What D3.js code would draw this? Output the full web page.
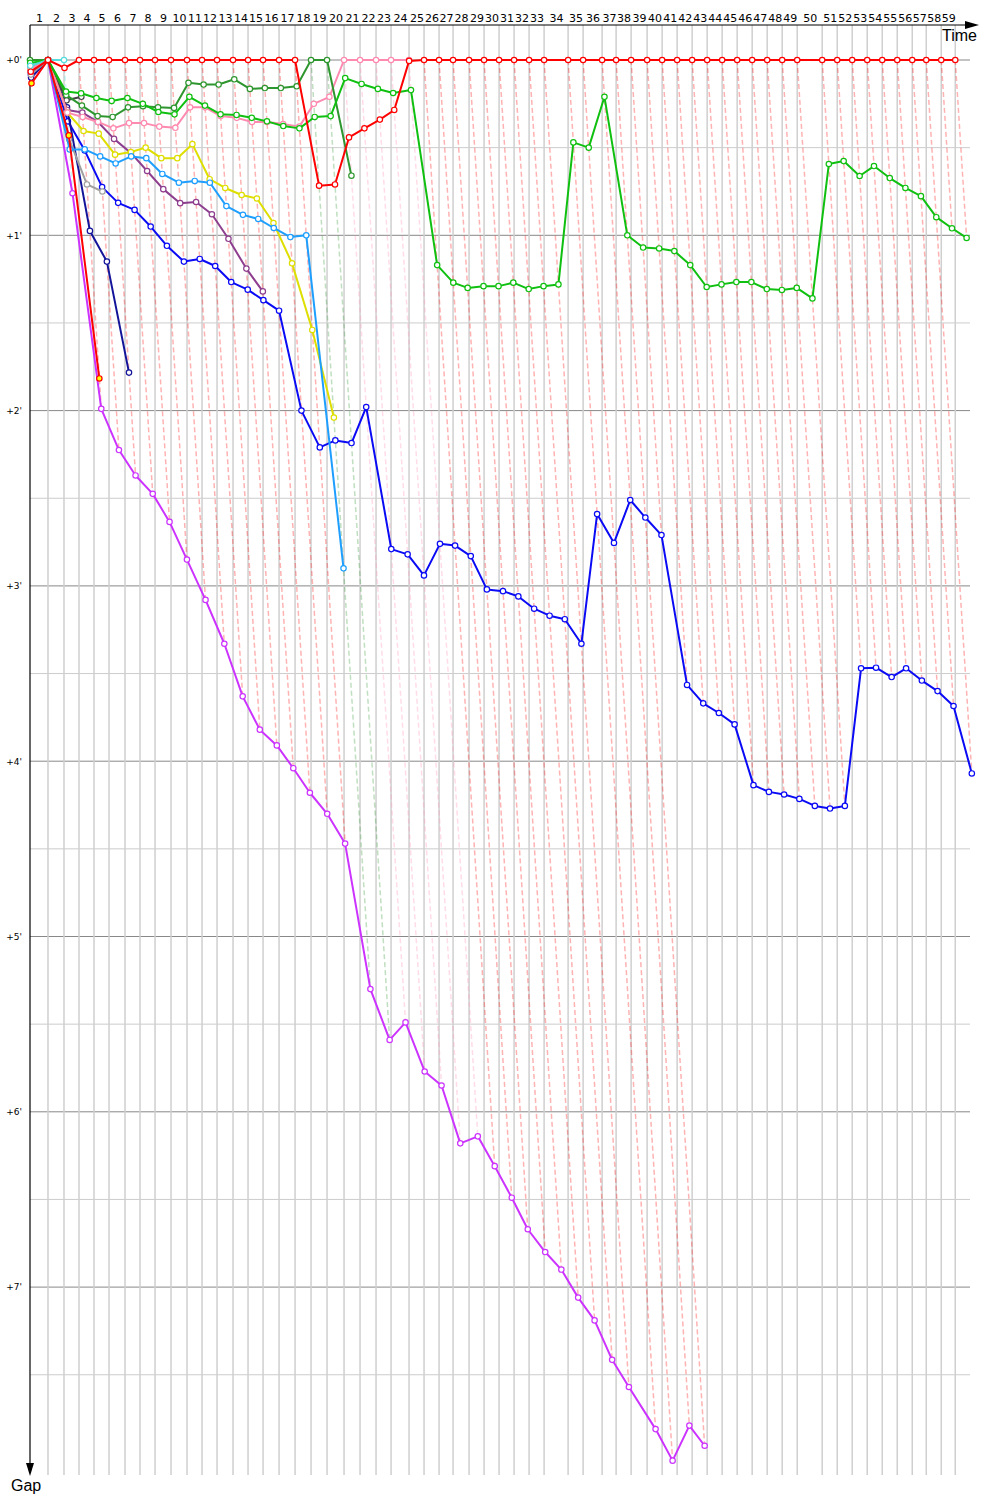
<!DOCTYPE html>
<html>
<head>
<meta charset="utf-8">
<script src="https://cdn.jsdelivr.net/npm/d3@7"></script>
<style>
body { margin: 0; background: #fff; }
</style>
</head>
<body>
<svg id="chart"></svg>
<script>
var width = 1000;
var height = 1500;

// leader lap times, seconds (laps 1..59)
var leaderLapTimes = [96.4,85.7,80.4,80.4,80.4,85.7,80.4,80.4,85.7,85.7,
  80.4,80.4,85.7,80.4,80.4,85.7,85.7,85.7,85.7,91.1,
  85.7,85.7,80.4,96.4,80.4,80.4,75.0,85.7,80.4,80.4,
  80.4,80.4,80.4,128.6,80.4,101.8,75.0,80.4,85.7,80.4,
  80.4,80.4,80.4,80.4,80.4,80.4,80.4,80.4,80.4,133.9,
  80.4,80.4,80.4,80.4,80.4,80.4,75.0,80.4,75.0];

// gap to leader in seconds, index = lap (0 = start)
var gapsViolet = [6,0,45.6,119.4,133.5,142.2,148.5,158.1,171,184.8,
  199.8,217.8,229.2,234.6,242.4,250.8,258,268.2,318,335.4,
  329.4,346.2,351,370.8,368.4,378.6,389.4,400.2,408,414,
  423.6,431.4,444.9,454.2,468.6,479.4,467.4,474.3];
var gapsBlue = [5,0,21,31,43.5,48.9,51.3,57,63.6,69,
  68.1,70.5,76,78.6,82.2,85.8,120,132.6,130.2,131.1,
  118.8,167.4,169.2,176.4,165.6,166.2,169.8,181.2,181.8,183.6,
  187.8,190.2,191.4,199.8,155.4,165.3,150.6,156.6,162.6,213.9,
  220.2,223.5,227.4,248.2,250.5,251.4,252.9,255.3,256.2,255.3,
  208.2,208,211.2,208.2,212.4,216,221.1,244.2];
var gapsNavy = [6,0,16.2,58.5,69,107];
var gapsGray = [5,0,27,42.6,45];
var gapsBlack = [3,0,13.8,12.6];
var gapsPurple = [4,0,17.1,18,21.2,27,31.8,38,44.2,49,48.6,52.8,61.2,71.4,79.2];
var gapsYellow = [3,0,18,24.3,25.2,32.4,31.5,30,33.6,33.6,28.8,40.8,43.8,46.2,47.4,55.8,69.6,92.4,122.4];
var gapsLightBlue = [2,0,30.6,30.6,33,35.4,33,33.6,39,42,41.4,42,50,53,54.4,57.5,60.6,60,174];
var gapsPink = [3,0,18,19.5,21.2,23.4,21.6,21.6,22.8,23.2,16.2,16.2,19.2,19.8,21.2,21.2,21.9,22.8,15,12.6,0,0,0,0,0];
var gapsDarkGreen = [0,0,12,15.6,19.2,19.5,16.2,15.8,16.2,16.4,7.8,8.4,8.4,6.6,9.9,9.6,9.6,9,0,0,39.6];
var gapsGreen = [1,0,10.8,11.4,13,14,13,15,17.8,18.6,
  12.6,15.6,18.6,18.8,19.8,21,22.6,23.4,19.5,19.2,
  6.2,8.2,9.9,11.3,10.3,70.2,76.2,78,77.4,77.4,
  76.2,78.4,77.4,76.8,28.2,30,12.6,60,64.2,64.5,
  65.4,70.2,77.7,76.8,76,76,78.4,78.7,78,81.6,
  35.6,34.6,39.7,36.3,40.4,43.8,46.6,53.8,57.6,60.9];
var gapsCyan = [2,0,0];
var gapsRedB = [8,0,25.8,109];
var gapsRedA = [4,0,2.7,0,0,0,0,0,0,0,
  0,0,0,0,0,0,0,0,43,42.6,
  26.5,23.4,20.4,17.1,0.3,0,0,0,0,0,
  0,0,0,0,0,0,0,0,0,0,
  0,0,0,0,0,0,0,0,0,0,
  0,0,0,0,0,0,0,0,0,0];

var minuteTicks = [0,1,2,3,4,5,6,7];
var halfMinuteTicks = [0.5,1.5,2.5,3.5,4.5,5.5,6.5,7.5];

var seriesGaps = [gapsViolet, gapsBlue, gapsNavy, gapsGray, gapsBlack, gapsPurple, gapsYellow,
  gapsLightBlue, gapsPink, gapsDarkGreen, gapsGreen, gapsCyan, gapsRedB, gapsRedA];
var seriesColors = ["#cc33ff", "#0a0af5", "#14149a", "#a0a0a0", "#444444", "#8e3e8e", "#dede00",
  "#1e9eff", "#ff8ab0", "#2e962e", "#10c010", "#55dddd", "#ff0000", "#ff0000"];
var seriesFills = ["#fff", "#fff", "#fff", "#fff", "#fff", "#fff", "#fff",
  "#fff", "#fff", "#fff", "#fff", "#fff", "#ffff00", "#fff"];

var svg = d3.select("#chart")
    .attr("width", width)
    .attr("height", height)
    .style("font-family", "'DejaVu Sans', sans-serif");

// cumulative leader time at end of each lap
var cum = [0];
leaderLapTimes.forEach(function(t, i){ cum.push(cum[i] + t); });

var x = d3.scaleLinear().domain([0, 60]).range([30, 41.2]);
var y = d3.scaleLinear().domain([0, 60]).range([60, 235.3]);

var series = seriesGaps.map(function(g, i){
  return {
    color: seriesColors[i],
    fill: seriesFills[i],
    pts: g.map(function(v, lap){ return {lap: lap, gap: v, x: x(cum[lap] + v), y: y(v)}; })
  };
});

// horizontal grid
svg.append("g").selectAll("line").data(halfMinuteTicks).join("line")
  .attr("x1", 30).attr("x2", 970)
  .attr("y1", function(d){ return y(d * 60); }).attr("y2", function(d){ return y(d * 60); })
  .attr("stroke", "#cccccc").attr("stroke-width", 1);
svg.append("g").selectAll("line").data(minuteTicks).join("line")
  .attr("x1", 30).attr("x2", 970)
  .attr("y1", function(d){ return y(d * 60); }).attr("y2", function(d){ return y(d * 60); })
  .attr("stroke", "#888888").attr("stroke-width", 1);

// vertical lap lines
svg.append("g").selectAll("line").data(cum.slice(1)).join("line")
  .attr("x1", function(d){ return x(d); }).attr("x2", function(d){ return x(d); })
  .attr("y1", 25).attr("y2", 1475)
  .attr("stroke", "#cfcfcf").attr("stroke-width", 1.5);

// dashed lap lines, leader -> last car on that lap
var lapLinks = [];
for (var lap = 1; lap < cum.length; lap++) {
  var on = series.filter(function(s){ return s.pts[lap] !== undefined; }).map(function(s){ return {s: s, p: s.pts[lap]}; });
  var lead = d3.least(on, function(o){ return o.p.gap; });
  var last = d3.greatest(on, function(o){ return o.p.gap; });
  if (last.p.gap > lead.p.gap) lapLinks.push({a: lead.p, b: last.p, color: lead.s.color});
}
svg.append("g").selectAll("line").data(lapLinks).join("line")
  .attr("x1", function(d){ return d.a.x; }).attr("y1", function(d){ return d.a.y; })
  .attr("x2", function(d){ return d.b.x; }).attr("y2", function(d){ return d.b.y; })
  .attr("stroke", function(d){ return d.color; })
  .attr("stroke-opacity", 0.3)
  .attr("stroke-width", 1.5)
  .attr("stroke-dasharray", "5,3");

// axes
svg.append("line").attr("x1", 30).attr("y1", 25).attr("x2", 966).attr("y2", 25)
  .attr("stroke", "#000").attr("stroke-width", 1.2);
svg.append("path").attr("d", "M965,21L979,25L965,29Z").attr("fill", "#000");
svg.append("line").attr("x1", 30).attr("y1", 25).attr("x2", 30).attr("y2", 1464)
  .attr("stroke", "#000").attr("stroke-width", 1.2);
svg.append("path").attr("d", "M26,1463L30,1476L34,1463Z").attr("fill", "#000");

svg.append("text").attr("x", 977).attr("y", 41).attr("text-anchor", "end")
  .style("font-family", "'Liberation Sans', sans-serif").style("font-size", "16px").text("Time");
svg.append("text").attr("x", 11).attr("y", 1491)
  .style("font-family", "'Liberation Sans', sans-serif").style("font-size", "16px").text("Gap");

// lap labels centred in each lap interval
var lapMids = cum.slice(1).map(function(d, i){ return (cum[i] + d) / 2; });
var topAxis = svg.append("g").attr("transform", "translate(0,21.5)")
  .call(d3.axisTop(x).tickValues(lapMids).tickFormat(function(d, i){ return i + 1; }).tickSize(0).tickPadding(0));
topAxis.select(".domain").remove();
topAxis.selectAll("text").style("font-size", "11px").style("font-family", "'DejaVu Sans', sans-serif").attr("fill", "#000");

var leftAxis = svg.append("g").attr("transform", "translate(22,0)")
  .call(d3.axisLeft(y).tickValues(minuteTicks.map(function(d){ return d * 60; }))
    .tickFormat(function(d){ return "+" + (d / 60) + "'"; }).tickSize(0).tickPadding(0));
leftAxis.select(".domain").remove();
leftAxis.selectAll("text").style("font-size", "9px").style("font-family", "'DejaVu Sans', sans-serif").attr("fill", "#000");

// car traces
var line = d3.line().x(function(d){ return d.x; }).y(function(d){ return d.y; });
var traces = svg.append("g").selectAll("g").data(series).join("g");
traces.append("path")
  .attr("d", function(d){ return line(d.pts); })
  .attr("fill", "none")
  .attr("stroke", function(d){ return d.color; })
  .attr("stroke-width", 2)
  .attr("stroke-linejoin", "round");
traces.selectAll("circle").data(function(d){ return d.pts.map(function(p){ return {p: p, s: d}; }); }).join("circle")
  .attr("cx", function(d){ return d.p.x; })
  .attr("cy", function(d){ return d.p.y; })
  .attr("r", 2.7)
  .attr("fill", function(d){ return d.s.fill; })
  .attr("stroke", function(d){ return d.s.color; })
  .attr("stroke-width", 1.2);
</script>
</body>
</html>
